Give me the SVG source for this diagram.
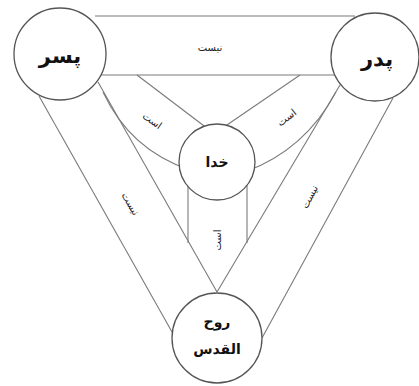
<svg xmlns="http://www.w3.org/2000/svg" width="419" height="386" viewBox="0 0 419 386">
<style>
.ln{fill:none;stroke:#7a7a7a;stroke-width:1.1}
.nd{fill:#fff;stroke:#555;stroke-width:1.3}
.big{font-family:"DejaVu Sans",sans-serif;font-weight:bold;fill:#111;text-anchor:middle}
.lb{font-family:"DejaVu Sans",sans-serif;font-size:10px;fill:#222;text-anchor:middle}
</style>
<rect width="419" height="386" fill="#fff"/>
<g id="connectors">
<line class="ln" x1="95" y1="16" x2="355" y2="16"/>
<line class="ln" x1="100" y1="75" x2="335" y2="75"/>
<line class="ln" x1="39" y1="96" x2="172" y2="332"/>
<line class="ln" x1="98" y1="82" x2="217" y2="292"/>
<line class="ln" x1="340" y1="85" x2="217" y2="292"/>
<line class="ln" x1="393" y1="98" x2="262" y2="338"/>
<line class="ln" x1="137" y1="75" x2="212" y2="132"/>
<path class="ln" d="M103,92 Q130,150 190,170"/>
<line class="ln" x1="300" y1="75" x2="224" y2="127"/>
<path class="ln" d="M336,92 Q305,150 245,172"/>
<line class="ln" x1="188" y1="180" x2="188" y2="243"/>
<line class="ln" x1="247" y1="180" x2="247" y2="243"/>
<text class="lb" x="210" y="51">نیست</text>
<text class="lb" transform="translate(130,204) rotate(60)" y="3">نیست</text>
<text class="lb" transform="translate(310,197) rotate(-62)" y="3">نیست</text>
<text class="lb" transform="translate(152,121) rotate(35)" y="3">است</text>
<text class="lb" transform="translate(287,118) rotate(-38)" y="3">است</text>
<text class="lb" transform="translate(218,240) rotate(-90)" y="3">است</text>
</g>
<g id="node-son">
<circle class="nd" cx="60" cy="54" r="46"/>
<text class="big" x="60" y="63" font-size="21">پسر</text>
</g>
<g id="node-father">
<circle class="nd" cx="375" cy="57" r="44"/>
<text class="big" x="377" y="66" font-size="21">پدر</text>
</g>
<g id="node-god">
<circle class="nd" cx="217" cy="162" r="38"/>
<text class="big" x="217" y="167" font-size="14">خدا</text>
</g>
<g id="node-spirit">
<circle class="nd" cx="217" cy="338" r="45"/>
<text class="big" x="217" y="327" font-size="14">روح</text>
<text class="big" x="217" y="354" font-size="14">القدس</text>
</g>
</svg>
